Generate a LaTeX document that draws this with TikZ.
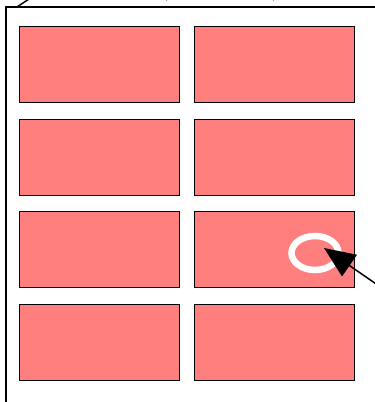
\documentclass[tikz,border=0pt]{standalone}
\usepackage{tikz}
\usetikzlibrary{arrows.meta,shapes.geometric}

\begin{document}
\begin{tikzpicture}[
  x=1pt, y=-1pt,  cell/.style={rectangle,draw=black,fill={rgb,255:red,255;green,127;blue,127},line width=1.8pt,minimum width=160pt,minimum height=76pt,inner sep=0pt},  ring/.style={ellipse,draw=white,line width=6.5pt,minimum width=47pt,minimum height=34pt,inner sep=0pt},  frame/.style={draw=black,line width=2pt}
]
  \useasboundingbox (0,0) rectangle (375,402);
  \node[anchor=base,font=\fontsize{13}{15}\selectfont] (title) at (220,-1.5) {(\hspace{104pt})};
  \coordinate (fTL) at (6,7);
  \coordinate (fTR) at (380,7);
  \coordinate (fBL) at (6,410);
  \coordinate (tabA) at (17,7);
  \coordinate (tabB) at (35,-5);
  \draw[frame] (fBL) -- (fTL) -- (fTR);
  \draw[line width=1.5pt] (tabA) -- (tabB);
  \node[cell] (c11) at (99.5,64.5) {};
  \node[cell] (c12) at (274.5,64.5) {};
  \node[cell] (c21) at (99.5,157.5) {};
  \node[cell] (c22) at (274.5,157.5) {};
  \node[cell] (c31) at (99.5,249.5) {};
  \node[cell] (c32) at (274.5,249.5) {};
  \node[cell] (c41) at (99.5,342.5) {};
  \node[cell] (c42) at (274.5,342.5) {};
  \node[ring] (mark) at (315,253) {};
  \coordinate (tip) at (324,248);
  \coordinate (tail) at (395,297);
  \draw[line width=1.5pt,-{Triangle[length=31pt,width=26pt]}] (tail) -- (tip);
\end{tikzpicture}
\end{document}
